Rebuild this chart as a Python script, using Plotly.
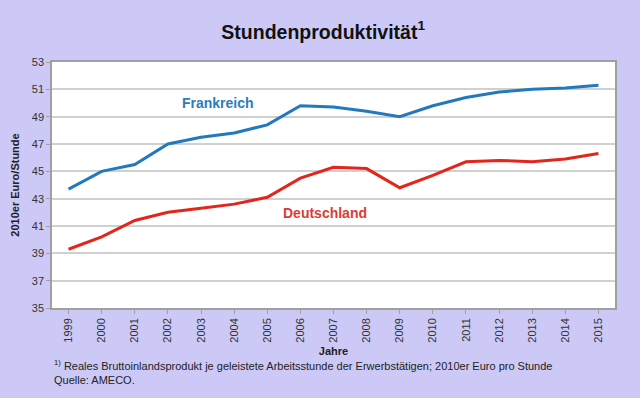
import plotly.graph_objects as go

years = [str(y) for y in range(1999, 2016)]
frankreich = [43.7, 45.0, 45.5, 47.0, 47.5, 47.8, 48.4, 49.8, 49.7, 49.4, 49.0, 49.8, 50.4, 50.8, 51.0, 51.1, 51.3]
deutschland = [39.3, 40.2, 41.4, 42.0, 42.3, 42.6, 43.1, 44.5, 45.3, 45.2, 43.8, 44.7, 45.7, 45.8, 45.7, 45.9, 46.3]
y_ticks = list(range(35, 54, 2))

BG = "#ccc9f7"
BLUE = "#2279bd"
RED = "#e3261b"
FONT = "Liberation Sans, Arial, sans-serif"

fig = go.Figure()
fig.add_trace(go.Scatter(x=years, y=frankreich, mode="lines", name="Frankreich",
                         line=dict(color=BLUE, width=3)))
fig.add_trace(go.Scatter(x=years, y=deutschland, mode="lines", name="Deutschland",
                         line=dict(color=RED, width=3)))

fig.update_layout(
    width=640, height=398,
    margin=dict(l=52, r=25, t=62, b=90),
    paper_bgcolor=BG, plot_bgcolor="white",
    showlegend=False,
    font=dict(family=FONT, size=11, color="#222"),
    title=dict(text="<b>Stundenproduktivität<sup>1</sup></b>", x=0.505, xanchor="center",
               y=0.92, yanchor="middle", font=dict(size=19.5, color="#111", family=FONT)),
)
fig.update_xaxes(
    type="category", range=[-0.5, 16.5], tickangle=-90,
    showgrid=False, showline=True, linecolor="#a0a0a0", linewidth=1.5, mirror=True,
    ticks="outside", ticklen=4, tickcolor="#a0a0a0",
    tickfont=dict(size=11, color="#333"),
    title=dict(text="<b>Jahre</b>", font=dict(size=11, color="#222"), standoff=6),
)
fig.update_yaxes(
    range=[35, 53], tickvals=y_ticks, showgrid=True, gridcolor="#d0d0d0", gridwidth=1.5,
    showline=True, linecolor="#a0a0a0", linewidth=1.5, mirror=True,
    ticks="outside", ticklen=4, tickcolor="#a0a0a0",
    tickfont=dict(size=11, color="#333"), zeroline=False,
    title=dict(text="<b>2010er Euro/Stunde</b>", font=dict(size=11, color="#222"), standoff=10),
)

fig.add_annotation(x=years.index("2003") + 0.5, y=50.0, text="<b>Frankreich</b>", showarrow=False,
                   font=dict(size=14, color="#2e7bbd"), xanchor="center", yanchor="middle")
fig.add_annotation(x=years.index("2007") - 0.25, y=41.95, text="<b>Deutschland</b>", showarrow=False,
                   font=dict(size=14, color="#e03a30"), xanchor="center", yanchor="middle")

fig.add_annotation(xref="paper", yref="paper", x=0.0, y=-0.197, xanchor="left", yanchor="top",
                   align="left", showarrow=False,
                   text="<sup>1)</sup> Reales Bruttoinlandsprodukt je geleistete Arbeitsstunde der Erwerbstätigen; 2010er Euro pro Stunde<br>Quelle: AMECO.",
                   font=dict(size=11, color="#222"))

fig.write_html("out.html", config={"displayModeBar": False},
               post_script="document.body.style.margin='0';document.body.style.overflow='hidden';")
